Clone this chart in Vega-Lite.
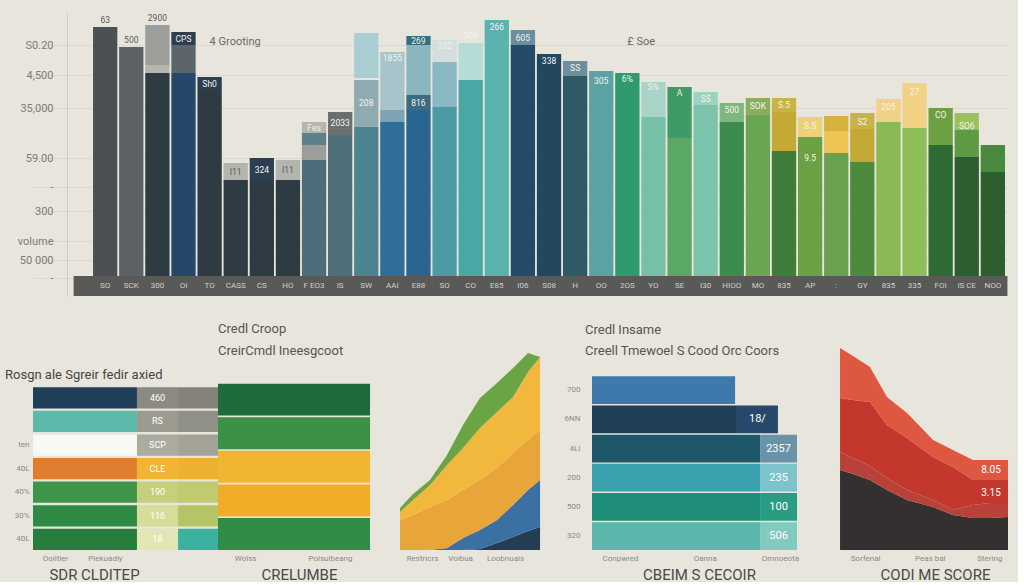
{
  "$schema": "https://vega.github.io/schema/vega-lite/v6.json",
  "background": "#e8e5dc",
  "padding": {"left": 5, "top": 12, "right": 0, "bottom": 0},
  "bounds": "flush",
  "spacing": 49,
  "resolve": {"scale": {"color": "independent"}},
  "config": {
    "view": {"stroke": null},
    "font": "Roboto",
    "axis": {"domain": false, "ticks": false, "grid": false, "labelColor": "#8a8a86", "labelFontSize": 8, "titleColor": "#4a4a4a", "titleFontWeight": "normal", "titleFontSize": 15, "titleFont": "Roboto"},
    "title": {"fontWeight": "normal", "color": "#4d4d4d", "fontSize": 13, "anchor": "start", "font": "Roboto", "frame": "group"}
  },
  "datasets": {
    "topSegs": [
      {"bar": "SO", "lo": 0, "hi": 24.9, "tone": "charcoal"},
      {"bar": "SCK", "lo": 0, "hi": 22.9, "tone": "graphite"},
      {"bar": "300", "lo": 0, "hi": 20.3, "tone": "ink"},
      {"bar": "300", "lo": 20.3, "hi": 21.1, "tone": "pebble"},
      {"bar": "300", "lo": 21.1, "hi": 25.1, "tone": "silver"},
      {"bar": "OI", "lo": 0, "hi": 20.3, "tone": "navy"},
      {"bar": "OI", "lo": 20.3, "hi": 23.1, "tone": "slate"},
      {"bar": "OI", "lo": 23.1, "hi": 24.4, "tone": "dusk"},
      {"bar": "TO", "lo": 0, "hi": 18.6, "tone": "ink"},
      {"bar": "TO", "lo": 18.6, "hi": 19.9, "tone": "dusk"},
      {"bar": "CASS", "lo": 0, "hi": 9.6, "tone": "ink"},
      {"bar": "CASS", "lo": 9.6, "hi": 11.3, "tone": "pebble"},
      {"bar": "CS", "lo": 0, "hi": 9.4, "tone": "ink"},
      {"bar": "CS", "lo": 9.4, "hi": 11.8, "tone": "dusk"},
      {"bar": "HO", "lo": 0, "hi": 9.6, "tone": "ink"},
      {"bar": "HO", "lo": 9.6, "hi": 11.6, "tone": "pebble"},
      {"bar": "F EO3", "lo": 0, "hi": 11.6, "tone": "steel"},
      {"bar": "F EO3", "lo": 11.6, "hi": 13.1, "tone": "silver"},
      {"bar": "F EO3", "lo": 13.1, "hi": 14.3, "tone": "bluegray"},
      {"bar": "F EO3", "lo": 14.3, "hi": 15.4, "tone": "pebble"},
      {"bar": "IS", "lo": 0, "hi": 14.1, "tone": "steel2"},
      {"bar": "IS", "lo": 14.1, "hi": 16.4, "tone": "ash"},
      {"bar": "SW", "lo": 0, "hi": 14.9, "tone": "sea"},
      {"bar": "SW", "lo": 14.9, "hi": 19.6, "tone": "mist"},
      {"bar": "SW", "lo": 19.8, "hi": 24.3, "tone": "ice"},
      {"bar": "AAI", "lo": 0, "hi": 15.4, "tone": "cobalt"},
      {"bar": "AAI", "lo": 15.4, "hi": 16.6, "tone": "powder"},
      {"bar": "AAI", "lo": 16.6, "hi": 22.4, "tone": "sky"},
      {"bar": "E88", "lo": 0, "hi": 16.6, "tone": "deep"},
      {"bar": "E88", "lo": 16.6, "hi": 18.1, "tone": "tealdusk"},
      {"bar": "E88", "lo": 18.1, "hi": 23.1, "tone": "haze"},
      {"bar": "E88", "lo": 23.1, "hi": 24.0, "tone": "petrol"},
      {"bar": "SO ", "lo": 0, "hi": 16.9, "tone": "lagoon"},
      {"bar": "SO ", "lo": 16.9, "hi": 21.4, "tone": "aqua"},
      {"bar": "SO ", "lo": 21.4, "hi": 23.6, "tone": "frost"},
      {"bar": "CO", "lo": 0, "hi": 19.6, "tone": "jade"},
      {"bar": "CO", "lo": 19.6, "hi": 23.3, "tone": "mint"},
      {"bar": "E85", "lo": 0, "hi": 25.6, "tone": "turq"},
      {"bar": "I06", "lo": 0, "hi": 23.1, "tone": "abyss"},
      {"bar": "I06", "lo": 23.1, "hi": 24.6, "tone": "cloud"},
      {"bar": "S08", "lo": 0, "hi": 22.2, "tone": "midnight"},
      {"bar": "H", "lo": 0, "hi": 20.0, "tone": "pine"},
      {"bar": "H", "lo": 20.0, "hi": 21.5, "tone": "fjord"},
      {"bar": "OO", "lo": 0, "hi": 20.5, "tone": "reef"},
      {"bar": "2OS", "lo": 0, "hi": 20.3, "tone": "emerald"},
      {"bar": "YO", "lo": 0, "hi": 15.9, "tone": "sage"},
      {"bar": "YO", "lo": 15.9, "hi": 19.4, "tone": "seafoam"},
      {"bar": "SE", "lo": 0, "hi": 13.8, "tone": "moss"},
      {"bar": "SE", "lo": 13.8, "hi": 18.9, "tone": "fern"},
      {"bar": "I30", "lo": 0, "hi": 17.1, "tone": "celadon"},
      {"bar": "I30", "lo": 17.1, "hi": 18.4, "tone": "glass"},
      {"bar": "HIOO", "lo": 0, "hi": 15.4, "tone": "forest"},
      {"bar": "HIOO", "lo": 15.4, "hi": 17.3, "tone": "leaf"},
      {"bar": "MO", "lo": 0, "hi": 16.1, "tone": "grass"},
      {"bar": "MO", "lo": 16.1, "hi": 17.8, "tone": "olive"},
      {"bar": "835", "lo": 0, "hi": 12.5, "tone": "hunter"},
      {"bar": "835", "lo": 12.5, "hi": 16.4, "tone": "mustard"},
      {"bar": "835", "lo": 16.4, "hi": 17.8, "tone": "citron"},
      {"bar": "AP", "lo": 0, "hi": 13.9, "tone": "meadow"},
      {"bar": "AP", "lo": 13.9, "hi": 15.9, "tone": "pale"},
      {"bar": ":", "lo": 0, "hi": 12.3, "tone": "sprout"},
      {"bar": ":", "lo": 12.3, "hi": 14.5, "tone": "butter"},
      {"bar": ":", "lo": 14.5, "hi": 16.0, "tone": "ochre"},
      {"bar": "GY", "lo": 0, "hi": 11.4, "tone": "kelly"},
      {"bar": "GY", "lo": 11.4, "hi": 14.7, "tone": "mustard"},
      {"bar": "GY", "lo": 14.7, "hi": 16.3, "tone": "citron"},
      {"bar": "835 ", "lo": 0, "hi": 15.4, "tone": "spring"},
      {"bar": "835 ", "lo": 15.4, "hi": 17.7, "tone": "cream"},
      {"bar": "335", "lo": 0, "hi": 14.8, "tone": "lime"},
      {"bar": "335", "lo": 14.8, "hi": 19.3, "tone": "cream"},
      {"bar": "FOI", "lo": 0, "hi": 13.1, "tone": "spruce"},
      {"bar": "FOI", "lo": 13.1, "hi": 16.8, "tone": "olivine"},
      {"bar": "IS CE", "lo": 0, "hi": 11.9, "tone": "bottle"},
      {"bar": "IS CE", "lo": 11.9, "hi": 14.6, "tone": "clover"},
      {"bar": "IS CE", "lo": 14.6, "hi": 16.3, "tone": "apple"},
      {"bar": "NOO", "lo": 0, "hi": 10.4, "tone": "bottle"},
      {"bar": "NOO", "lo": 10.4, "hi": 13.1, "tone": "fir"}
    ],
    "topLabels": [
      {"bar": "SO", "v": 25.6, "label": "63", "ink": "dark"},
      {"bar": "SCK", "v": 23.6, "label": "500", "ink": "dark"},
      {"bar": "300", "v": 25.8, "label": "2900", "ink": "dark"},
      {"bar": "OI", "v": 23.75, "label": "CPS", "ink": "light"},
      {"bar": "TO", "v": 19.25, "label": "Sh0", "ink": "light"},
      {"bar": "CASS", "v": 10.45, "label": "I11", "ink": "dark"},
      {"bar": "CS", "v": 10.6, "label": "324", "ink": "light"},
      {"bar": "HO", "v": 10.6, "label": "I11", "ink": "dark"},
      {"bar": "F EO3", "v": 14.85, "label": "Fes", "ink": "light"},
      {"bar": "IS", "v": 15.3, "label": "2033", "ink": "light"},
      {"bar": "SW", "v": 17.3, "label": "208", "ink": "light"},
      {"bar": "AAI", "v": 21.8, "label": "1855", "ink": "light"},
      {"bar": "E88", "v": 23.55, "label": "269", "ink": "light"},
      {"bar": "E88", "v": 17.35, "label": "816", "ink": "light"},
      {"bar": "SO ", "v": 23.0, "label": "332", "ink": "light"},
      {"bar": "CO", "v": 24.0, "label": "909", "ink": "light"},
      {"bar": "E85", "v": 24.9, "label": "266", "ink": "light"},
      {"bar": "I06", "v": 23.85, "label": "605", "ink": "light"},
      {"bar": "S08", "v": 21.5, "label": "338", "ink": "light"},
      {"bar": "H", "v": 20.8, "label": "SS", "ink": "light"},
      {"bar": "OO", "v": 19.5, "label": "305", "ink": "light"},
      {"bar": "2OS", "v": 19.7, "label": "6%", "ink": "light"},
      {"bar": "YO", "v": 18.9, "label": "S%", "ink": "light"},
      {"bar": "SE", "v": 18.3, "label": "A", "ink": "light"},
      {"bar": "I30", "v": 17.75, "label": "SS", "ink": "light"},
      {"bar": "HIOO", "v": 16.6, "label": "500", "ink": "light"},
      {"bar": "MO", "v": 17.0, "label": "SOK", "ink": "light"},
      {"bar": "835", "v": 17.1, "label": "S.5", "ink": "light"},
      {"bar": "AP", "v": 15.0, "label": "S.S", "ink": "light"},
      {"bar": "AP", "v": 11.8, "label": "9.5", "ink": "light"},
      {"bar": "GY", "v": 15.4, "label": "S2", "ink": "light"},
      {"bar": "835 ", "v": 16.9, "label": "205", "ink": "light"},
      {"bar": "335", "v": 18.4, "label": "27", "ink": "light"},
      {"bar": "FOI", "v": 16.1, "label": "CO", "ink": "light"},
      {"bar": "IS CE", "v": 15.0, "label": "SO6", "ink": "light"}
    ],
    "panelA": [
      {"row": "r1", "lo": 0, "hi": 56.2, "tone": "navy"},
      {"row": "r1", "lo": 56.2, "hi": 78.4, "tone": "g1"},
      {"row": "r1", "lo": 78.4, "hi": 100, "tone": "f1"},
      {"row": "r2", "lo": 0, "hi": 56.2, "tone": "teal"},
      {"row": "r2", "lo": 56.2, "hi": 78.4, "tone": "g2"},
      {"row": "r2", "lo": 78.4, "hi": 100, "tone": "f2"},
      {"row": "r3", "lo": 0, "hi": 56.2, "tone": "white"},
      {"row": "r3", "lo": 56.2, "hi": 78.4, "tone": "g3"},
      {"row": "r3", "lo": 78.4, "hi": 100, "tone": "f3"},
      {"row": "r4", "lo": 0, "hi": 56.2, "tone": "orange"},
      {"row": "r4", "lo": 56.2, "hi": 78.4, "tone": "y4"},
      {"row": "r4", "lo": 78.4, "hi": 100, "tone": "f4"},
      {"row": "r5", "lo": 0, "hi": 56.2, "tone": "green1"},
      {"row": "r5", "lo": 56.2, "hi": 78.4, "tone": "l5"},
      {"row": "r5", "lo": 78.4, "hi": 100, "tone": "f5"},
      {"row": "r6", "lo": 0, "hi": 56.2, "tone": "green2"},
      {"row": "r6", "lo": 56.2, "hi": 78.4, "tone": "l6"},
      {"row": "r6", "lo": 78.4, "hi": 100, "tone": "f6"},
      {"row": "r7", "lo": 0, "hi": 56.2, "tone": "green3"},
      {"row": "r7", "lo": 56.2, "hi": 78.4, "tone": "l7"},
      {"row": "r7", "lo": 78.4, "hi": 100, "tone": "f7"}
    ],
    "panelALabels": [
      {"row": "r1", "at": 67.3, "lbl": "460"},
      {"row": "r2", "at": 67.3, "lbl": "RS"},
      {"row": "r3", "at": 67.3, "lbl": "SCP"},
      {"row": "r4", "at": 67.3, "lbl": "CLE"},
      {"row": "r5", "at": 67.3, "lbl": "190"},
      {"row": "r6", "at": 67.3, "lbl": "116"},
      {"row": "r7", "at": 67.3, "lbl": "18"}
    ],
    "panelB": [
      {"row": "q1", "lo": 0, "hi": 100, "tone": "q1"},
      {"row": "q2", "lo": 0, "hi": 100, "tone": "q2"},
      {"row": "q3", "lo": 0, "hi": 100, "tone": "q3"},
      {"row": "q4", "lo": 0, "hi": 100, "tone": "q4"},
      {"row": "q5", "lo": 0, "hi": 100, "tone": "q5"}
    ],
    "panelC": [
      {"x": 0, "layer": "navy", "k": 1, "t": 0}, {"x": 0, "layer": "blue", "k": 2, "t": 0}, {"x": 0, "layer": "orange", "k": 3, "t": 30}, {"x": 0, "layer": "gold", "k": 4, "t": 8}, {"x": 0, "layer": "green", "k": 5, "t": 4},
      {"x": 0.93, "layer": "navy", "k": 1, "t": 0}, {"x": 0.93, "layer": "blue", "k": 2, "t": 0}, {"x": 0.93, "layer": "orange", "k": 3, "t": 35}, {"x": 0.93, "layer": "gold", "k": 4, "t": 15}, {"x": 0.93, "layer": "green", "k": 5, "t": 6},
      {"x": 2.14, "layer": "navy", "k": 1, "t": 0}, {"x": 2.14, "layer": "blue", "k": 2, "t": 0}, {"x": 2.14, "layer": "orange", "k": 3, "t": 43}, {"x": 2.14, "layer": "gold", "k": 4, "t": 22}, {"x": 2.14, "layer": "green", "k": 5, "t": 5},
      {"x": 3.36, "layer": "navy", "k": 1, "t": 0}, {"x": 3.36, "layer": "blue", "k": 2, "t": 2}, {"x": 3.36, "layer": "orange", "k": 3, "t": 48}, {"x": 3.36, "layer": "gold", "k": 4, "t": 35}, {"x": 3.36, "layer": "green", "k": 5, "t": 10},
      {"x": 4.5, "layer": "navy", "k": 1, "t": 0}, {"x": 4.5, "layer": "blue", "k": 2, "t": 12}, {"x": 4.5, "layer": "orange", "k": 3, "t": 48}, {"x": 4.5, "layer": "gold", "k": 4, "t": 42}, {"x": 4.5, "layer": "green", "k": 5, "t": 23},
      {"x": 5.71, "layer": "navy", "k": 1, "t": 1}, {"x": 5.71, "layer": "blue", "k": 2, "t": 19}, {"x": 5.71, "layer": "orange", "k": 3, "t": 50}, {"x": 5.71, "layer": "gold", "k": 4, "t": 52}, {"x": 5.71, "layer": "green", "k": 5, "t": 30},
      {"x": 6.93, "layer": "navy", "k": 1, "t": 7}, {"x": 6.93, "layer": "blue", "k": 2, "t": 23}, {"x": 6.93, "layer": "orange", "k": 3, "t": 52}, {"x": 6.93, "layer": "gold", "k": 4, "t": 56}, {"x": 6.93, "layer": "green", "k": 5, "t": 29},
      {"x": 8.07, "layer": "navy", "k": 1, "t": 13}, {"x": 8.07, "layer": "blue", "k": 2, "t": 32}, {"x": 8.07, "layer": "orange", "k": 3, "t": 52}, {"x": 8.07, "layer": "gold", "k": 4, "t": 56}, {"x": 8.07, "layer": "green", "k": 5, "t": 29},
      {"x": 9.14, "layer": "navy", "k": 1, "t": 19}, {"x": 9.14, "layer": "blue", "k": 2, "t": 41}, {"x": 9.14, "layer": "orange", "k": 3, "t": 50}, {"x": 9.14, "layer": "gold", "k": 4, "t": 68}, {"x": 9.14, "layer": "green", "k": 5, "t": 19},
      {"x": 10, "layer": "navy", "k": 1, "t": 23}, {"x": 10, "layer": "blue", "k": 2, "t": 47}, {"x": 10, "layer": "orange", "k": 3, "t": 50}, {"x": 10, "layer": "gold", "k": 4, "t": 73}, {"x": 10, "layer": "green", "k": 5, "t": 0}
    ],
    "panelD": [
      {"row": "d1", "lo": 0, "hi": 69.8, "tone": "blue"},
      {"row": "d2", "lo": 0, "hi": 70.7, "tone": "navy"},
      {"row": "d2", "lo": 70.7, "hi": 90.7, "tone": "navybox"},
      {"row": "d3", "lo": 0, "hi": 82, "tone": "petrol"},
      {"row": "d3", "lo": 82, "hi": 100, "tone": "steelbox"},
      {"row": "d4", "lo": 0, "hi": 82, "tone": "teal"},
      {"row": "d4", "lo": 82, "hi": 100, "tone": "tealbox"},
      {"row": "d5", "lo": 0, "hi": 82, "tone": "green"},
      {"row": "d5", "lo": 82, "hi": 100, "tone": "greenbox"},
      {"row": "d6", "lo": 0, "hi": 82, "tone": "mint"},
      {"row": "d6", "lo": 82, "hi": 100, "tone": "mintbox"}
    ],
    "panelDLabels": [
      {"row": "d2", "at": 80.7, "lbl": "18/"},
      {"row": "d3", "at": 91, "lbl": "2357"},
      {"row": "d4", "at": 91, "lbl": "235"},
      {"row": "d5", "at": 91, "lbl": "100"},
      {"row": "d6", "at": 91, "lbl": "506"}
    ],
    "panelE": [
      {"x": 0.12, "layer": "dark", "k": 1, "t": 80}, {"x": 0.12, "layer": "crimson", "k": 2, "t": 18}, {"x": 0.12, "layer": "deep", "k": 3, "t": 54}, {"x": 0.12, "layer": "red", "k": 4, "t": 50},
      {"x": 0.88, "layer": "dark", "k": 1, "t": 76}, {"x": 0.88, "layer": "crimson", "k": 2, "t": 16}, {"x": 0.88, "layer": "deep", "k": 3, "t": 58}, {"x": 0.88, "layer": "red", "k": 4, "t": 44},
      {"x": 1.88, "layer": "dark", "k": 1, "t": 70}, {"x": 1.88, "layer": "crimson", "k": 2, "t": 14}, {"x": 1.88, "layer": "deep", "k": 3, "t": 64}, {"x": 1.88, "layer": "red", "k": 4, "t": 35},
      {"x": 2.88, "layer": "dark", "k": 1, "t": 60}, {"x": 2.88, "layer": "crimson", "k": 2, "t": 12}, {"x": 2.88, "layer": "deep", "k": 3, "t": 53}, {"x": 2.88, "layer": "red", "k": 4, "t": 28},
      {"x": 4.06, "layer": "dark", "k": 1, "t": 50}, {"x": 4.06, "layer": "crimson", "k": 2, "t": 10}, {"x": 4.06, "layer": "deep", "k": 3, "t": 52}, {"x": 4.06, "layer": "red", "k": 4, "t": 25},
      {"x": 5.59, "layer": "dark", "k": 1, "t": 43}, {"x": 5.59, "layer": "crimson", "k": 2, "t": 7}, {"x": 5.59, "layer": "deep", "k": 3, "t": 43}, {"x": 5.59, "layer": "red", "k": 4, "t": 17},
      {"x": 6.76, "layer": "dark", "k": 1, "t": 35}, {"x": 6.76, "layer": "crimson", "k": 2, "t": 5}, {"x": 6.76, "layer": "deep", "k": 3, "t": 43}, {"x": 6.76, "layer": "red", "k": 4, "t": 17},
      {"x": 7.94, "layer": "dark", "k": 1, "t": 32}, {"x": 7.94, "layer": "crimson", "k": 2, "t": 13}, {"x": 7.94, "layer": "deep", "k": 3, "t": 25}, {"x": 7.94, "layer": "red", "k": 4, "t": 20},
      {"x": 8.94, "layer": "dark", "k": 1, "t": 32}, {"x": 8.94, "layer": "crimson", "k": 2, "t": 15}, {"x": 8.94, "layer": "deep", "k": 3, "t": 23}, {"x": 8.94, "layer": "red", "k": 4, "t": 20},
      {"x": 10, "layer": "dark", "k": 1, "t": 33}, {"x": 10, "layer": "crimson", "k": 2, "t": 14}, {"x": 10, "layer": "deep", "k": 3, "t": 23}, {"x": 10, "layer": "red", "k": 4, "t": 20}
    ]
  },
  "vconcat": [
    {
      "width": 975,
      "height": 284,
      "layer": [
        {
          "data": {"name": "topSegs"},
          "mark": {"type": "bar"},
          "encoding": {
            "x": {
              "field": "bar", "type": "nominal",
              "scale": {
                "domain": [" ", "SO", "SCK", "300", "OI", "TO", "CASS", "CS", "HO", "F EO3", "IS", "SW", "AAI", "E88", "SO ", "CO", "E85", "I06", "S08", "H", "OO", "2OS", "YO", "SE", "I30", "HIOO", "MO", "835", "AP", ":", "GY", "835 ", "335", "FOI", "IS CE", "NOO"],
                "paddingInner": 0.07, "paddingOuter": 0.707, "align": 0.919, "round": false
              },
              "axis": {"title": null, "labelPadding": -15, "labelColor": "#d2d0ca", "labelFontSize": 8, "labelAngle": 0, "zindex": 1, "labelOverlap": false}
            },
            "y": {
              "field": "lo", "type": "quantitative",
              "scale": {"domain": [-2, 26.4], "nice": false, "zero": false},
              "axis": {
                "title": null, "orient": "left", "offset": -34,
                "values": [23.1, 20.1, 16.8, 11.8, 8.9, 6.5, 3.5, 1.6, -0.2],
                "tickCount": 30,
                "labelExpr": "datum.value == 23.1 ? 'S0.20' : datum.value == 20.1 ? '4,500' : datum.value == 16.8 ? '35,000' : datum.value == 11.8 ? '59.00' : datum.value == 8.9 ? '-' : datum.value == 6.5 ? '300' : datum.value == 3.5 ? 'volume' : datum.value == 1.6 ? '50 000' : '-'",
                "labelFontSize": 11, "labelColor": "#7c7c78", "labelPadding": 14, "labelOverlap": false, "labelBound": false,
                "grid": true, "gridColor": "#dbd8ce", "domain": true, "domainColor": "#cfccc2"
              }
            },
            "y2": {"field": "hi"},
            "color": {
              "field": "tone", "type": "nominal", "legend": null,
              "scale": {
                "domain": ["charcoal", "graphite", "silver", "ink", "navy", "slate", "dusk", "pebble", "steel", "bluegray", "steel2", "ash", "sea", "mist", "ice", "frost", "cobalt", "powder", "sky", "deep", "tealdusk", "haze", "petrol", "lagoon", "aqua", "jade", "mint", "turq", "abyss", "cloud", "midnight", "pine", "fjord", "reef", "emerald", "sage", "seafoam", "moss", "fern", "celadon", "glass", "forest", "leaf", "grass", "olive", "hunter", "mustard", "citron", "meadow", "pale", "sprout", "butter", "ochre", "kelly", "spring", "cream", "lime", "spruce", "olivine", "bottle", "clover", "apple", "fir"],
                "range": ["#4b5153", "#5d6264", "#9c9e9b", "#2f3b43", "#25486a", "#5c666a", "#2c3e50", "#b4b5ae", "#4e6d7b", "#5e7f8c", "#4f6f79", "#6b6f6f", "#4b8391", "#8fabb0", "#a9cdd3", "#d3dedd", "#2f6e98", "#7ea2b6", "#a6c4ca", "#2a6590", "#3b6b80", "#8ab6be", "#356f80", "#4a9ba3", "#8ab8c4", "#4aa7a4", "#b5dcd8", "#5bb3b0", "#234a66", "#6b8fa0", "#23475f", "#2d5a66", "#6d8e9c", "#5ba3a3", "#2e9a6e", "#76c0aa", "#a7d4c6", "#5aa864", "#3e9a66", "#7bc4ab", "#9ad3c0", "#3d8c4d", "#7fb87e", "#6aa552", "#8aae5c", "#3f7d3a", "#c5a935", "#c8b446", "#6ba043", "#ebd279", "#6aa150", "#edc454", "#d4b23d", "#4d8a3d", "#8ab956", "#f1d284", "#8fbd5a", "#2d6a34", "#6d9f43", "#2c5e2f", "#5d9a43", "#9ac060", "#4a8a3f"]
              }
            }
          }
        },
        {
          "data": {"values": [{"from": "SO", "to": "NOO"}]},
          "mark": {"type": "rule", "color": "#595957", "strokeWidth": 20},
          "encoding": {
            "x": {"field": "from", "type": "nominal", "bandPosition": -0.8},
            "x2": {"field": "to", "bandPosition": 1.1},
            "y": {"datum": -1, "type": "quantitative"}
          }
        },
        {
          "data": {"name": "topLabels"},
          "mark": {"type": "text", "fontSize": 8.5},
          "encoding": {
            "x": {"field": "bar", "type": "nominal"},
            "y": {"field": "v", "type": "quantitative"},
            "text": {"field": "label"},
            "color": {"field": "ink", "type": "nominal", "legend": null, "scale": {"domain": ["dark", "light"], "range": ["#5a5a58", "#f4f3ee"]}}
          }
        },
        {
          "data": {"values": [{"bar": "TO", "v": 23.4, "note": "4 Grooting"}, {"bar": "2OS", "v": 23.4, "note": "£ Soe"}]},
          "mark": {"type": "text", "align": "left", "fontSize": 11, "color": "#6a6a66"},
          "encoding": {
            "x": {"field": "bar", "type": "nominal"},
            "y": {"field": "v", "type": "quantitative"},
            "text": {"field": "note"}
          }
        }
      ],
      "resolve": {"scale": {"color": "independent"}}
    },
    {
      "bounds": "flush",
      "spacing": 0,
      "resolve": {"scale": {"color": "independent"}},
      "hconcat": [
        {
          "width": 185,
          "height": 205,
          "title": {"text": "Rosgn ale Sgreir fedir axied", "anchor": "start", "frame": "group", "offset": -37, "dx": -28, "fontSize": 13, "color": "#454545"},
          "layer": [
            {
              "data": {"name": "panelA"},
              "mark": {"type": "bar"},
              "encoding": {
                "y": {
                  "field": "row", "type": "nominal",
                  "scale": {"domain": ["r1", "r2", "r3", "r4", "r5", "r6", "r7"], "paddingInner": 0.1, "paddingOuter": 0.895, "align": 1},
                  "axis": {"title": null, "labelPadding": 4, "labelExpr": "datum.value == 'r3' ? 'ten' : datum.value == 'r4' ? '40L' : datum.value == 'r5' ? '40%' : datum.value == 'r6' ? '30%' : datum.value == 'r7' ? '40L' : ''"}
                },
                "x": {
                  "field": "lo", "type": "quantitative",
                  "scale": {"domain": [0, 100], "nice": false, "zero": false},
                  "axis": {"values": [11.9, 38.9], "labelExpr": "datum.value < 20 ? 'Ooiitler' : 'Plekuadiy'", "labelPadding": 4, "title": "SDR CLDITEP", "titleX": 61, "titleAlign": "center", "titlePadding": 5}
                },
                "x2": {"field": "hi"},
                "color": {
                  "field": "tone", "type": "nominal", "legend": null,
                  "scale": {
                    "domain": ["navy", "teal", "white", "orange", "green1", "green2", "green3", "g1", "g2", "g3", "y4", "l5", "l6", "l7", "f1", "f2", "f3", "f4", "f5", "f6", "f7"],
                    "range": ["#1f3f5b", "#5db9a9", "#f8f8f4", "#df7d2c", "#3e9548", "#2e8b45", "#277d3d", "#8b8a80", "#9c9b90", "#acab9f", "#f0b532", "#c6cf7b", "#d6dd98", "#e2e5b5", "#83827a", "#929188", "#a3a297", "#eeb02f", "#c1ca70", "#b6c468", "#3bb29f"]
                  }
                }
              }
            },
            {
              "data": {"name": "panelALabels"},
              "mark": {"type": "text", "color": "#ffffff", "fontSize": 9},
              "encoding": {
                "y": {"field": "row", "type": "nominal"},
                "x": {"field": "at", "type": "quantitative"},
                "text": {"field": "lbl"}
              }
            }
          ]
        },
        {
          "width": 182,
          "height": 205,
          "title": {"text": ["Credl Croop", "CreirCmdl Ineesgcoot"], "anchor": "start", "frame": "group", "offset": -13, "lineHeight": 22, "fontSize": 13, "color": "#555555"},
          "data": {"name": "panelB"},
          "mark": {"type": "bar"},
          "encoding": {
            "y": {"field": "row", "type": "nominal", "scale": {"domain": ["q1", "q2", "q3", "q4", "q5"], "paddingInner": 0.05, "paddingOuter": 0.575, "align": 1}, "axis": null},
            "x": {
              "field": "lo", "type": "quantitative",
              "scale": {"domain": [0, 119.7], "nice": false, "zero": false},
              "axis": {"values": [17.8, 73.6], "labelExpr": "datum.value < 40 ? 'Wolss' : 'Polsuibeang'", "labelPadding": 4, "title": "CRELUMBE", "titleX": 81, "titleAlign": "center", "titlePadding": 5}
            },
            "x2": {"field": "hi"},
            "color": {"field": "tone", "type": "nominal", "legend": null, "scale": {"domain": ["q1", "q2", "q3", "q4", "q5"], "range": ["#1e6b3d", "#3b9146", "#f2b531", "#f1ad27", "#2f8d48"]}}
          }
        },
        {
          "width": 192,
          "height": 205,
          "data": {"name": "panelC"},
          "mark": {"type": "area", "interpolate": "linear"},
          "encoding": {
            "x": {
              "field": "x", "type": "quantitative",
              "scale": {"domain": [0, 13.71], "nice": false, "zero": false},
              "axis": {"values": [1.57, 4.29, 7.5], "labelExpr": "datum.value < 3 ? 'Restricrs' : datum.value < 6 ? 'Voibua' : 'Loobnuais'", "labelPadding": 4, "title": null}
            },
            "y": {"field": "t", "type": "quantitative", "stack": "zero", "scale": {"domain": [0, 205], "nice": false}, "axis": null},
            "order": {"field": "k", "type": "quantitative"},
            "color": {"field": "layer", "type": "nominal", "legend": null, "scale": {"domain": ["navy", "blue", "orange", "gold", "green"], "range": ["#243d52", "#3a71a2", "#e8a53a", "#f2b83e", "#6aa444"]}}
          }
        },
        {
          "width": 246,
          "height": 205,
          "title": {"text": ["Credl Insame", "Creell Tmewoel S Cood Orc Coors"], "anchor": "start", "frame": "group", "offset": -13, "dx": -7, "lineHeight": 21, "fontSize": 13, "color": "#555555"},
          "layer": [
            {
              "data": {"name": "panelD"},
              "mark": {"type": "bar"},
              "encoding": {
                "y": {
                  "field": "row", "type": "nominal",
                  "scale": {"domain": ["d1", "d2", "d3", "d4", "d5", "d6"], "paddingInner": 0.05, "paddingOuter": 0.535, "align": 1},
                  "axis": {"title": null, "labelPadding": 12, "labelExpr": "datum.value == 'd1' ? '700' : datum.value == 'd2' ? '6NN' : datum.value == 'd3' ? '4LI' : datum.value == 'd4' ? '200' : datum.value == 'd5' ? '500' : '320'"}
                },
                "x": {
                  "field": "lo", "type": "quantitative",
                  "scale": {"domain": [0, 120], "nice": false, "zero": false},
                  "axis": {"values": [13.7, 55, 91.7], "labelExpr": "datum.value < 30 ? 'Conpwred' : datum.value < 70 ? 'Oanna' : 'Omnoeota'", "labelPadding": 4, "title": "CBEIM S CECOIR", "titleX": 107, "titleAlign": "center", "titlePadding": 5}
                },
                "x2": {"field": "hi"},
                "color": {
                  "field": "tone", "type": "nominal", "legend": null,
                  "scale": {
                    "domain": ["blue", "navy", "navybox", "petrol", "steelbox", "teal", "tealbox", "green", "greenbox", "mint", "mintbox"],
                    "range": ["#3e79ad", "#1f3e57", "#27486a", "#1e5868", "#6b93a7", "#39a2ae", "#7cc3cb", "#1f8f79", "#2a9c84", "#5cb6ab", "#82c9be"]
                  }
                }
              }
            },
            {
              "data": {"name": "panelDLabels"},
              "mark": {"type": "text", "color": "#ffffff", "fontSize": 11},
              "encoding": {
                "y": {"field": "row", "type": "nominal"},
                "x": {"field": "at", "type": "quantitative"},
                "text": {"field": "lbl"}
              }
            }
          ]
        },
        {
          "width": 170,
          "height": 205,
          "layer": [
            {
              "data": {"name": "panelE"},
              "mark": {"type": "area", "interpolate": "linear"},
              "encoding": {
                "x": {
                  "field": "x", "type": "quantitative",
                  "scale": {"domain": [0, 10], "nice": false, "zero": false},
                  "axis": {"values": [1.6, 5.4, 8.9], "labelExpr": "datum.value < 3 ? 'Sorfenal' : datum.value < 7 ? 'Peas bal' : 'Stering'", "labelPadding": 4, "title": "CODI ME SCORE", "titleX": 97, "titleAlign": "center", "titlePadding": 5}
                },
                "y": {"field": "t", "type": "quantitative", "stack": "zero", "scale": {"domain": [0, 205], "nice": false}, "axis": null},
                "order": {"field": "k", "type": "quantitative"},
                "color": {"field": "layer", "type": "nominal", "legend": null, "scale": {"domain": ["dark", "crimson", "deep", "red"], "range": ["#33302f", "#b8413a", "#c4372d", "#de5741"]}}
              }
            },
            {
              "data": {"values": [{"x": 9.0, "y": 80, "lbl": "8.05"}, {"x": 9.0, "y": 57, "lbl": "3.15"}]},
              "mark": {"type": "text", "color": "#ffffff", "fontSize": 10},
              "encoding": {
                "x": {"field": "x", "type": "quantitative"},
                "y": {"field": "y", "type": "quantitative"},
                "text": {"field": "lbl"}
              }
            }
          ]
        }
      ]
    }
  ]
}
